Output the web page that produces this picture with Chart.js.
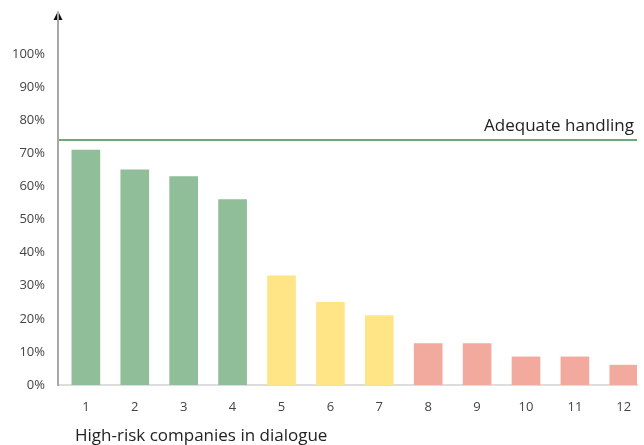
<!DOCTYPE html>
<html>
<head>
<meta charset="utf-8">
<script src="https://cdn.jsdelivr.net/npm/chart.js@4.4.0/dist/chart.umd.min.js"></script>
<style>
  html, body { margin: 0; padding: 0; background: #ffffff; }
  #wrap { width: 644px; height: 445px; }
</style>
</head>
<body>
<div id="wrap"><canvas id="chart" width="644" height="445"></canvas></div>
<script>
// companies 1..12 and share handled (%)
const companies = [1, 2, 3, 4, 5, 6, 7, 8, 9, 10, 11, 12];
const shares = [71, 65, 63, 56, 33, 25, 21, 12.5, 12.5, 8.5, 8.5, 6];
const groupColors = ['#8fbe99', '#8fbe99', '#8fbe99', '#8fbe99',
                     '#ffe585', '#ffe585', '#ffe585',
                     '#f3aa9e', '#f3aa9e', '#f3aa9e', '#f3aa9e', '#f3aa9e'];
const yTicks = [0, 10, 20, 30, 40, 50, 60, 70, 80, 90, 100];
const threshold = 74;
const thresholdLabel = 'Adequate handling';
const xTitle = 'High-risk companies in dialogue';

const FONT = '"Open Sans", "Noto Sans", sans-serif';

// threshold line, y-axis arrow and the x title
const extras = {
    id: 'extras',
    afterDatasetsDraw(chart) {
        const { ctx, chartArea, scales } = chart;
        const y = scales.y.getPixelForValue(threshold);
        ctx.save();
        ctx.strokeStyle = '#6fa67a';
        ctx.lineWidth = 2;
        ctx.beginPath();
        ctx.moveTo(chartArea.left, y);
        ctx.lineTo(chartArea.right, y);
        ctx.stroke();

        ctx.fillStyle = '#222';
        ctx.font = '17px ' + FONT;
        ctx.textAlign = 'right';
        ctx.textBaseline = 'alphabetic';
        ctx.fillText(thresholdLabel, chartArea.right - 3, y - 9);

        // arrow on top of the y axis
        const ax = chartArea.left;
        ctx.fillStyle = '#111';
        ctx.beginPath();
        ctx.moveTo(ax, chartArea.top - 2);
        ctx.lineTo(ax - 4.5, chartArea.top + 7);
        ctx.lineTo(ax + 4.5, chartArea.top + 7);
        ctx.closePath();
        ctx.fill();

        ctx.fillStyle = '#222';
        ctx.font = '17px ' + FONT;
        ctx.textAlign = 'left';
        ctx.fillText(xTitle, 75, 441);
        ctx.restore();
    }
};

new Chart(document.getElementById('chart'), {
    type: 'bar',
    data: {
        datasets: [{
            data: companies.map((c, i) => ({ x: c, y: shares[i] })),
            backgroundColor: groupColors,
            barThickness: 28,
            borderWidth: 0
        }]
    },
    options: {
        responsive: false,
        animation: false,
        layout: { padding: { top: 13, right: 7, left: 0, bottom: 0 } },
        plugins: { legend: { display: false }, tooltip: { enabled: false } },
        scales: {
            x: {
                type: 'linear',
                offset: false,
                min: 0.43,
                max: 12.27,
                afterBuildTicks: (axis) => { axis.ticks = companies.map(v => ({ value: v })); },
                afterFit: (axis) => {
                    axis.height = 60;
                    axis.paddingLeft = 0;
                    axis.paddingRight = 0;
                },
                grid: { display: false, drawTicks: false },
                border: { color: '#dddddd', width: 2 },
                ticks: { color: '#444', font: { family: FONT, size: 13 }, padding: 14, autoSkip: false }
            },
            y: {
                min: 0,
                max: 112.4,
                afterBuildTicks: (axis) => { axis.ticks = yTicks.map(v => ({ value: v })); },
                afterFit: (axis) => {
                    axis.width = 58;
                    axis.paddingTop = 0;
                    axis.paddingBottom = 0;
                },
                grid: { display: false, drawTicks: false },
                border: { color: '#a8a8a8', width: 2, z: 1 },
                ticks: {
                    color: '#444',
                    font: { family: FONT, size: 13 },
                    padding: 13,
                    callback: (v) => v + '%'
                }
            }
        }
    },
    plugins: [extras]
});
</script>
</body>
</html>
